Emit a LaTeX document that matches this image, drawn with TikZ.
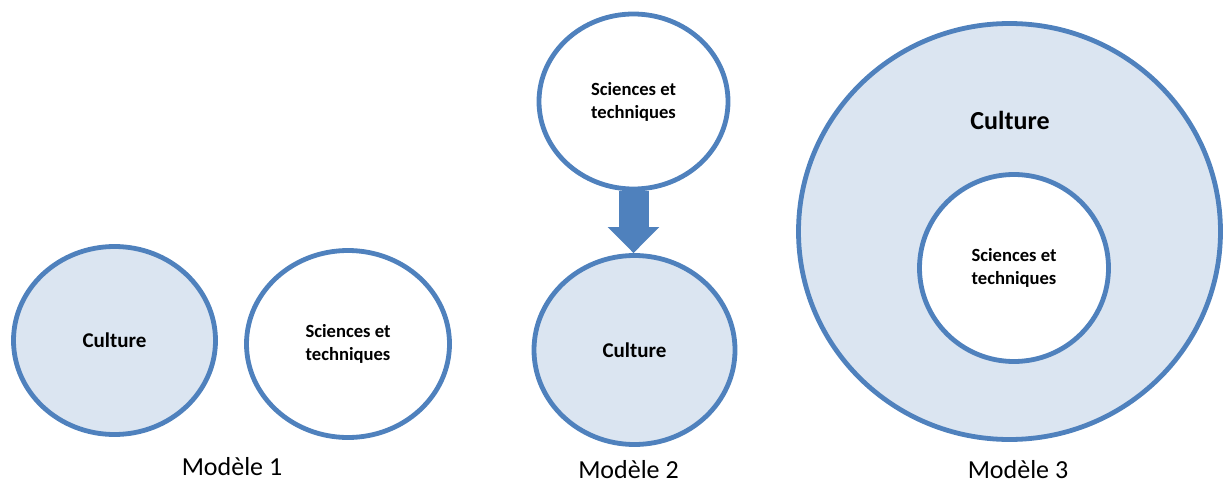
\documentclass[tikz,border=0pt]{standalone}
\usepackage{fontspec}
\setmainfont{Carlito}
\usepackage{tikz}
\usetikzlibrary{shapes.geometric,arrows.meta,backgrounds}
\definecolor{ringblue}{HTML}{4F81BD}
\definecolor{paleblue}{HTML}{DBE5F1}

\begin{document}
\begin{tikzpicture}[x=1pt,y=-1pt,
	bubble/.style={ellipse,draw=ringblue,line width=4.8pt,inner sep=0pt,align=center,
		font=\bfseries\fontsize{18.6}{23}\selectfont},
	culture/.style={bubble,fill=paleblue,font=\bfseries\fontsize{21}{25}\selectfont},
	science/.style={bubble,fill=white},
	caption/.style={anchor=base,inner sep=0pt,font=\fontsize{26}{30}\selectfont}]
	\useasboundingbox (0,0) rectangle (1223,484);
	% Modele 1
	\node[culture,minimum width=202pt,minimum height=188pt] (cu1) at (114.5,340.5) {Culture};
	\node[science,minimum width=203pt,minimum height=187pt] (st1) at (348,344) {Sciences et\\techniques};
	\node[caption] (m1) at (232,475.5) {Modèle 1};
	% Modele 2
	\node[science,minimum width=189pt,minimum height=175pt] (st2) at (633.5,101.5) {Sciences et\\techniques};
	\node[culture,minimum width=201pt,minimum height=189pt] (cu2) at (634.5,350) {Culture};
	\node[caption] (m2) at (628.5,478) {Modèle 2};
	\begin{scope}[on background layer]
		\draw[ringblue,line width=30pt,-{Triangle[width=50pt,length=26pt]}] (st2.south) -- (st2.south |- cu2.north);
	\end{scope}
	% Modele 3
	\node[culture,minimum width=422pt,minimum height=416pt] (cu3) at (1009.5,231.5) {};
	\node[font=\bfseries\fontsize{26}{30}\selectfont] (cu3t) at (1010,120) {Culture};
	\node[science,minimum width=189pt,minimum height=187pt] (st3) at (1014,268) {Sciences et\\techniques};
	\node[caption] (m3) at (1018,478) {Modèle 3};
\end{tikzpicture}
\end{document}
